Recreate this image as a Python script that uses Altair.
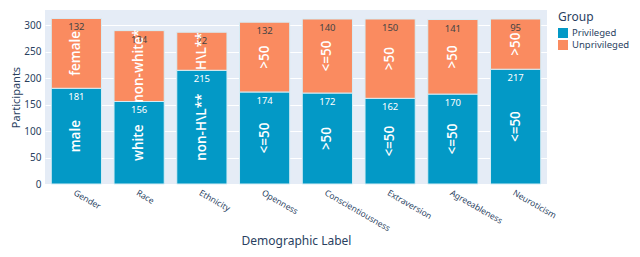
import altair as alt
import pandas as pd

categories = ["Gender", "Race", "Ethnicity", "Openness", "Conscientiousness",
              "Extraversion", "Agreeableness", "Neuroticism"]
priv_values = [181, 156, 215, 174, 172, 162, 170, 217]
unpriv_values = [132, 134, 72, 132, 140, 150, 141, 95]
priv_labels = ["male", "white", "non-H\\L**", "<=50", ">50", "<=50", "<=50", "<=50"]
unpriv_labels = ["female", "non-white*", "H\\L**", ">50", "<=50", ">50", ">50", ">50"]
groups = ["Privileged", "Unprivileged"]
y_ticks = [0, 50, 100, 150, 200, 250, 300]

rows = []
for c, pv, uv, pl, ul in zip(categories, priv_values, unpriv_values, priv_labels, unpriv_labels):
    rows.append(dict(cat=c, group="Privileged", val=pv, lab=pl, base=0, top=pv, mid=pv / 2))
    rows.append(dict(cat=c, group="Unprivileged", val=uv, lab=ul, base=pv, top=pv + uv, mid=pv + uv / 2))
df = pd.DataFrame(rows)

FONT = "Noto Sans"
TXT = "#2a3f5f"

xaxis = alt.Axis(labelAngle=30, labelAlign="left", labelBaseline="top",
                 labelFontSize=8.5, labelColor=TXT, labelFont=FONT,
                 ticks=False, domain=False, labelPadding=4,
                 titleFontSize=12, titleColor=TXT, titleFont=FONT,
                 titleFontWeight="normal", titlePadding=3, grid=False)
yaxis = alt.Axis(values=y_ticks, labelOverlap=False, labelFontSize=10,
                 labelColor=TXT, labelFont=FONT, ticks=False, domain=False,
                 gridColor="white", gridWidth=1, labelPadding=4,
                 titleFontSize=11, titleColor=TXT, titleFont=FONT,
                 titleFontWeight="normal", titlePadding=2)
xscale = alt.Scale(paddingInner=0.2, paddingOuter=0.1)
yscale = alt.Scale(domain=[0, 329], nice=False)


def X():
    return alt.X("cat:N", sort=categories, title="Demographic Label", scale=xscale, axis=xaxis)


bars = alt.Chart(df).mark_bar(stroke="#d6edf5", strokeWidth=1).encode(
    x=X(),
    y=alt.Y("base:Q", scale=yscale, title="Participants", axis=yaxis),
    y2="top:Q",
    color=alt.Color("group:N", scale=alt.Scale(domain=groups, range=["#0399C6", "#FA8B60"]),
                    legend=alt.Legend(title="Group", titleFontSize=12, titleColor=TXT,
                                      titleFont=FONT, titleFontWeight="normal",
                                      labelFontSize=9.5, labelColor=TXT, labelFont=FONT,
                                      symbolType="square", symbolSize=100,
                                      symbolStrokeWidth=0, offset=9, padding=2,
                                      rowPadding=2, titlePadding=4)),
)

nums = alt.Chart(df).mark_text(baseline="top", dy=4, fontSize=9.5, font=FONT).encode(
    x=X(),
    y=alt.Y("top:Q", scale=yscale, title="Participants", axis=yaxis),
    text="val:Q",
    color=alt.Color("group:N", scale=alt.Scale(domain=groups, range=["white", "#444444"]),
                    legend=None),
)

labs = alt.Chart(df).mark_text(angle=270, fontSize=13.5, font="Open Sans", fontWeight=600,
                               color="white").encode(
    x=X(),
    y=alt.Y("mid:Q", scale=yscale, title="Participants", axis=yaxis),
    text="lab:N",
)

chart = alt.layer(bars, nums, labs).resolve_scale(color="independent").properties(
    width=624, height=240,
    padding={"top": 2, "left": 2, "right": 0, "bottom": 1},
    autosize=alt.AutoSizeParams(type="fit", contains="padding"),
).configure_view(fill="#E5ECF6", stroke=None)

chart.save("out.html", embed_options={"renderer": "svg", "actions": False})
